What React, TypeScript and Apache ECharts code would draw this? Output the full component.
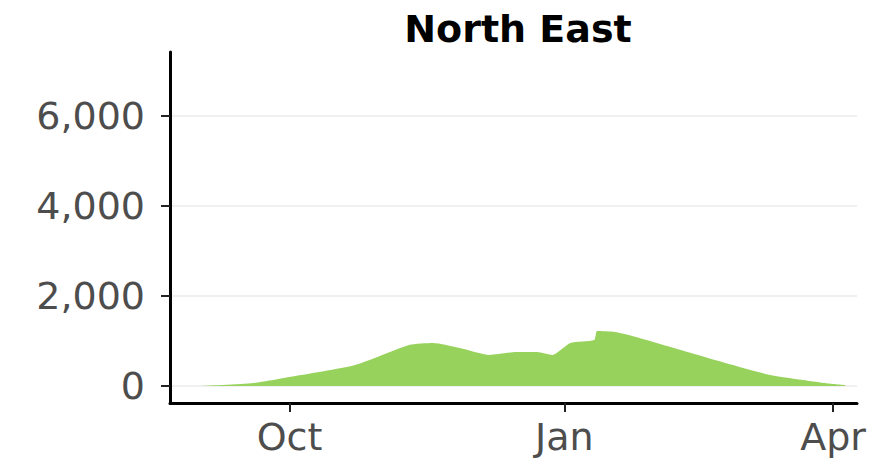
import React, { useEffect, useRef } from "react";
import * as echarts from "echarts";

const title = "North East";
const dates = [
  "2020-09-01", "2020-09-19", "2020-10-01", "2020-10-23", "2020-11-10", "2020-11-18",
  "2020-11-27", "2020-12-07", "2020-12-16", "2020-12-23", "2020-12-28", "2021-01-03",
  "2021-01-11", "2021-01-12", "2021-01-18", "2021-01-25", "2021-02-09", "2021-02-24",
  "2021-03-11", "2021-03-29", "2021-04-05",
];
const values = [
  0, 67, 200, 467, 911, 955,
  844, 690, 755, 755, 690, 955,
  1020, 1220, 1200, 1090, 800, 511,
  244, 67, 20,
];
const yTicks = [0, 2000, 4000, 6000];
const xTicks = ["2020-10-01", "2021-01-01", "2021-04-01"];
const xTickLabels = ["Oct", "Jan", "Apr"];
const xRange = ["2020-08-22", "2021-04-09"];
const yRange = [-378, 7422];

const ts = (d: string) => new Date(d + "T00:00:00Z").getTime();

export default function App() {
  const ref = useRef<HTMLDivElement>(null);
  useEffect(() => {
    if (!ref.current) return;
    const chart = echarts.init(ref.current, undefined, { renderer: "svg" });
    const xTickTs = xTicks.map(ts);
    chart.setOption({
      animation: false,
      backgroundColor: "#ffffff",
      title: {
        text: title,
        left: 513,
        textAlign: "center",
        top: 5,
        textStyle: { fontFamily: "DejaVu Sans", fontWeight: "bold", fontSize: 38, color: "#000" },
      },
      grid: { left: 170, right: 9, top: 52, bottom: 55, containLabel: false },
      xAxis: {
        type: "value",
        min: ts(xRange[0]),
        max: ts(xRange[1]),
        axisLine: { show: true, onZero: false, lineStyle: { color: "#000", width: 3 } },
        axisTick: { show: true, customValues: xTickTs, length: 9, lineStyle: { color: "#222", width: 2 } },
        axisLabel: {
          customValues: xTickTs,
          formatter: (v: number) => {
            const i = xTickTs.indexOf(v);
            return i >= 0 ? xTickLabels[i] : "";
          },
          fontFamily: "DejaVu Sans",
          fontSize: 38,
          color: "#4d4d4d",
          margin: 15,
          hideOverlap: false,
        },
        splitLine: { show: false },
      },
      yAxis: {
        type: "value",
        min: yRange[0],
        max: yRange[1],
        axisLine: { show: true, onZero: false, lineStyle: { color: "#000", width: 3 } },
        axisTick: { show: true, customValues: yTicks, length: 9, lineStyle: { color: "#222", width: 2 } },
        axisLabel: {
          customValues: yTicks,
          formatter: (v: number) => v.toLocaleString("en-US"),
          fontFamily: "DejaVu Sans",
          fontSize: 38,
          color: "#4d4d4d",
          margin: 25,
        },
        splitLine: { show: true, lineStyle: { color: "#f0f0f0", width: 2 } },
      },
      series: [
        {
          type: "line",
          data: dates.map((d, i) => [ts(d), values[i]]),
          showSymbol: false,
          smooth: 0.2,
          lineStyle: { width: 0 },
          areaStyle: { color: "#97d35c", opacity: 1 },
          itemStyle: { color: "#97d35c" },
        },
      ],
    });
    return () => chart.dispose();
  }, []);
  return <div ref={ref} style={{ width: 869, height: 458, position: "absolute", left: 0, top: 0 }} />;
}
